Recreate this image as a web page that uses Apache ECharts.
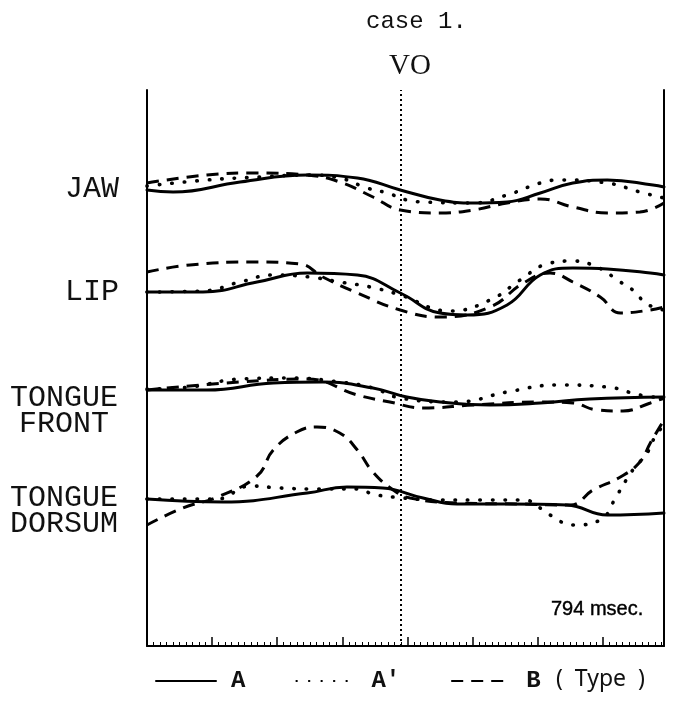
<!DOCTYPE html>
<html>
<head>
<meta charset="utf-8">
<script src="https://cdn.jsdelivr.net/npm/echarts@6/dist/echarts.min.js"></script>
<style>
  html, body { margin: 0; padding: 0; background: #fff; }
  #chart { width: 680px; height: 707px; }
</style>
</head>
<body>
<div id="chart"></div>
<script>
// time in msec (0..794), value = relative height (arbitrary units)
const totalMsec = 794;
const voTime = 390;

const jawA  = [[0,456],[40,454],[143,464],[246,471],[323,468],[389,456],[450,446],[501,443],[553,444],[604,453],[654,463],[707,466],[777,461],[794,459]];
const jawA2 = [[0,460],[92,466],[174,469],[246,471],[296,468],[338,458],[369,453],[399,446],[424,444],[501,443],[553,451],[604,463],[634,466],[707,463],[757,454],[794,448]];
const jawB  = [[0,463],[92,471],[169,473],[246,471],[296,464],[347,449],[389,436],[450,433],[501,436],[553,443],[604,447],[654,439],[707,433],[757,434],[794,443]];

const lipA  = [[0,354],[86,354],[169,364],[246,373],[323,371],[389,353],[450,333],[492,331],[553,341],[604,371],[654,378],[707,377],[773,373],[794,371]];
const lipA2 = [[0,354],[86,355],[143,364],[194,371],[250,369],[296,364],[343,359],[389,351],[465,335],[527,346],[573,366],[614,382],[654,385],[691,379],[727,364],[746,356],[768,342],[794,336]];
const lipB  = [[0,374],[66,381],[169,384],[235,382],[270,369],[323,353],[389,336],[450,329],[527,339],[578,363],[619,373],[654,364],[696,349],[727,333],[773,336],[794,339]];

const tfA  = [[0,256],[92,256],[194,263],[270,264],[347,258],[399,249],[450,244],[527,241],[604,243],[680,247],[794,249]];
const tfA2 = [[0,257],[66,259],[143,267],[220,268],[296,264],[347,258],[389,248],[476,244],[553,254],[630,261],[707,259],[757,251],[794,248]];
const tfB  = [[0,256],[143,264],[246,267],[323,251],[373,244],[424,238],[501,241],[604,244],[654,243],[691,236],[731,235],[773,243],[794,248]];

const tdA  = [[0,147],[117,144],[246,153],[307,159],[362,158],[424,148],[476,142],[553,142],[645,141],[707,131],[794,133]];
const tdA2 = [[0,147],[108,147],[158,160],[204,158],[255,157],[323,157],[347,152],[378,149],[450,146],[527,146],[578,146],[619,131],[654,121],[696,126],[722,151],[746,176],[768,193],[780,209],[794,221]];
const tdB  = [[0,121],[55,138],[108,149],[169,170],[194,196],[230,214],[261,219],[296,213],[323,196],[347,174],[378,156],[404,148],[481,143],[573,142],[650,141],[685,156],[727,169],[757,184],[773,203],[794,226]];

const typeStyles = {
  'A':  { type: 'solid', width: 3, cap: 'round' },
  "A'": { type: [0.5, 12], width: 3.6, cap: 'round' },
  'B':  { type: [12, 8], width: 3, cap: 'butt' }
};

function mk(name, data) {
  return {
    name: name,
    type: 'line',
    data: data,
    smooth: 0.45,
    showSymbol: false,
    symbol: 'none',
    lineStyle: Object.assign({ color: '#000' }, typeStyles[name]),
    itemStyle: { color: '#000' },
    z: 3
  };
}

const series = [
  mk('A', jawA), mk("A'", jawA2), mk('B', jawB),
  mk('A', lipA), mk("A'", lipA2), mk('B', lipB),
  mk('A', tfA), mk("A'", tfA2), mk('B', tfB),
  mk('A', tdA), mk("A'", tdA2), mk('B', tdB)
];

series[0].markLine = {
  silent: true,
  symbol: 'none',
  label: { show: false },
  lineStyle: { color: '#000', type: [2, 3], width: 2 },
  data: [{ xAxis: voTime }]
};

const chart = echarts.init(document.getElementById('chart'));

const labelFont = '30px "Liberation Mono", monospace';
const graphics = [
  { type: 'text', x: 119, y: 189, style: { text: 'JAW', font: labelFont, fill: '#111', align: 'right', verticalAlign: 'middle' } },
  { type: 'text', x: 119, y: 292, style: { text: 'LIP', font: labelFont, fill: '#111', align: 'right', verticalAlign: 'middle' } },
  { type: 'text', x: 64, y: 411, style: { text: 'TONGUE\nFRONT', font: labelFont, fill: '#111', align: 'center', verticalAlign: 'middle', lineHeight: 26 } },
  { type: 'text', x: 64, y: 511, style: { text: 'TONGUE\nDORSUM', font: labelFont, fill: '#111', align: 'center', verticalAlign: 'middle', lineHeight: 26 } },
  { type: 'text', x: 366, y: 22, style: { text: 'case 1.', font: '24px "Liberation Mono", monospace', fill: '#111', verticalAlign: 'middle' } },
  { type: 'text', x: 410, y: 66, style: { text: 'VO', font: '29px "Liberation Serif", serif', fill: '#111', align: 'center', verticalAlign: 'middle' } },
  { type: 'text', x: 551, y: 609, style: { text: '794 msec.', font: '20px "Liberation Sans", Arial, sans-serif', fill: '#000', verticalAlign: 'middle', stroke: '#000', lineWidth: 0.4 } },
  { type: 'text', x: 556, y: 679, style: { text: '(  Type  )', font: '23px "Noto Sans", sans-serif', fill: '#111', verticalAlign: 'middle' } }
];

chart.setOption({
  backgroundColor: '#fff',
  animation: false,
  grid: { left: 147, right: 16, top: 90, bottom: 61 },
  legend: {
    data: ['A', "A'", 'B'],
    left: 150,
    top: 664,
    itemWidth: 60,
    itemHeight: 14,
    itemGap: 50,
    itemStyle: { color: 'rgba(0,0,0,0)', borderWidth: 0 },
    lineStyle: { width: 2 },
    textStyle: { fontFamily: '"Liberation Mono", monospace', fontSize: 24, fontWeight: 'bold', color: '#111', padding: [0, 0, 0, 10] },
    selectedMode: false
  },
  xAxis: {
    type: 'value',
    min: 0,
    max: totalMsec,
    interval: 100,
    axisLine: { show: true, onZero: false, lineStyle: { color: '#000', width: 2 } },
    axisTick: { show: true, inside: true, length: 9, lineStyle: { color: '#000', width: 1.5 } },
    minorTick: { show: true, splitNumber: 10, length: 4, lineStyle: { color: '#000', width: 1 } },
    axisLabel: { show: false },
    splitLine: { show: false }
  },
  yAxis: [
    {
      type: 'value', min: 0, max: 556, position: 'left',
      axisLine: { show: true, lineStyle: { color: '#000', width: 2 } },
      axisTick: { show: false }, axisLabel: { show: false }, splitLine: { show: false }
    },
    {
      type: 'value', min: 0, max: 556, position: 'right',
      axisLine: { show: true, lineStyle: { color: '#000', width: 2 } },
      axisTick: { show: false }, axisLabel: { show: false }, splitLine: { show: false }
    }
  ],
  graphic: graphics,
  series: series
});
</script>
</body>
</html>
